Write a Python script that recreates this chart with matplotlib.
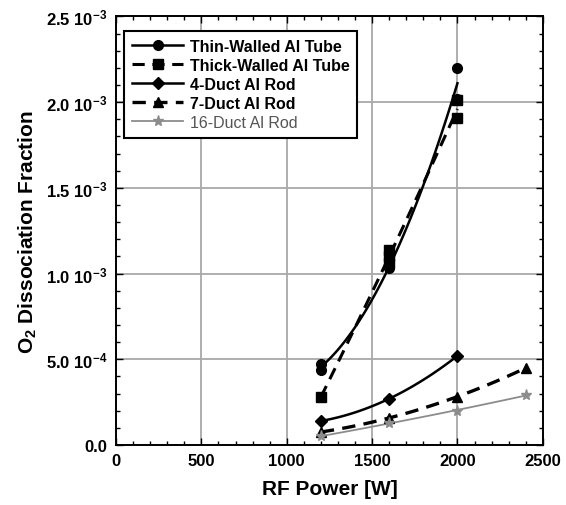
import numpy as np
import matplotlib
matplotlib.use("Agg")
import matplotlib.pyplot as plt
from matplotlib.ticker import MultipleLocator, FuncFormatter

plt.rcParams['font.family'] = ['Liberation Sans', 'DejaVu Sans']
plt.rcParams['mathtext.fontset'] = 'custom'
plt.rcParams['mathtext.rm'] = 'Liberation Sans:bold'
plt.rcParams['mathtext.bf'] = 'Liberation Sans:bold'
plt.rcParams['mathtext.it'] = 'Liberation Sans:bold'
plt.rcParams['mathtext.default'] = 'bf'

# Data (values in units of 1e-3)
thin_x = [1200, 1200, 1600, 1600, 2000, 2000]
thin_y = [0.47, 0.44, 1.05, 1.03, 2.20, 2.02]
thick_x = [1200, 1600, 1600, 1600, 2000, 2000]
thick_y = [0.28, 1.14, 1.10, 1.06, 2.01, 1.91]
duct4_x = [1200, 1600, 2000]
duct4_y = [0.14, 0.27, 0.52]
duct7_x = [1200, 1600, 2000, 2400]
duct7_y = [0.075, 0.16, 0.28, 0.45]
duct16_x = [1200, 1600, 2000, 2400]
duct16_y = [0.05, 0.13, 0.20, 0.29]

series = [
    ("Thin-Walled Al Tube", thin_x, thin_y, 'o', '-', 'black', 1.8, 'bold'),
    ("Thick-Walled Al Tube", thick_x, thick_y, 's', (0, (4, 2.5)), 'black', 2.2, 'bold'),
    ("4-Duct Al Rod", duct4_x, duct4_y, 'D', '-', 'black', 1.8, 'bold'),
    ("7-Duct Al Rod", duct7_x, duct7_y, '^', (0, (4, 2.5)), 'black', 2.4, 'bold'),
    ("16-Duct Al Rod", duct16_x, duct16_y, '*', '-', '#8c8c8c', 1.3, 'normal'),
]

fig = plt.figure(figsize=(5.66, 5.06), dpi=100)
ax = fig.add_axes([0.205, 0.1186, 0.754, 0.847])

handles = []
for name, xs, ys, mk, ls, col, lw, wt in series:
    xs = np.array(xs, float)
    ys = np.array(ys, float) * 1e-3
    ux = np.unique(xs)
    my = np.array([ys[xs == u].mean() for u in ux])
    coef = np.polyfit(ux, my, 2)
    xx = np.linspace(ux.min(), ux.max(), 100)
    ax.plot(xx, np.polyval(coef, xx), linestyle=ls, color=col, lw=lw, zorder=3)
    ms = 7 if mk != '*' else 8
    if mk == 'D':
        ms = 6
    ax.plot(xs, ys, linestyle='none', marker=mk, color=col, ms=ms, zorder=4)
    h, = ax.plot([], [], linestyle=ls, color=col, lw=lw, marker=mk, ms=ms)
    handles.append(h)

ax.set_xlim(0, 2500)
ax.set_ylim(0, 2.5e-3)
ax.xaxis.set_major_locator(MultipleLocator(500))
ax.xaxis.set_minor_locator(MultipleLocator(100))
ax.yaxis.set_major_locator(MultipleLocator(0.5e-3))
ax.yaxis.set_minor_locator(MultipleLocator(0.1e-3))

def yfmt(v, pos):
    if abs(v) < 1e-12:
        return "0.0"
    e = int(np.floor(np.log10(abs(v)) + 1e-9))
    m = v / 10 ** e
    return r"%.1f 10$^{%d}$" % (m, e)

ax.yaxis.set_major_formatter(FuncFormatter(yfmt))
ax.tick_params(which='both', direction='in', top=True, right=True)
ax.tick_params(which='major', length=5, width=1, pad=6)
ax.tick_params(which='minor', length=3, width=1)
for lab in ax.get_xticklabels() + ax.get_yticklabels():
    lab.set_fontweight('bold')
    lab.set_fontsize(12)
ax.grid(True, which='major', color='#a8a8a8', lw=1.3)
ax.set_axisbelow(True)
for s in ax.spines.values():
    s.set_linewidth(1.4)

ax.set_xlabel("RF Power [W]", fontsize=15, fontweight='bold', labelpad=8)
ax.set_ylabel(r"O$_2$ Dissociation Fraction", fontsize=15, fontweight='bold', labelpad=5)

leg = ax.legend(handles, [s[0] for s in series], loc='upper left',
                bbox_to_anchor=(0.0, 0.985), fancybox=False, framealpha=1,
                edgecolor='black', handlelength=3.2, fontsize=11.5,
                borderpad=0.5, labelspacing=0.25, handletextpad=0.4)
leg.get_frame().set_linewidth(1.5)
for t, s in zip(leg.get_texts(), series):
    t.set_fontweight(s[7])
    if s[7] == 'normal':
        t.set_color('#555555')

fig.savefig("out.png", dpi=100)
